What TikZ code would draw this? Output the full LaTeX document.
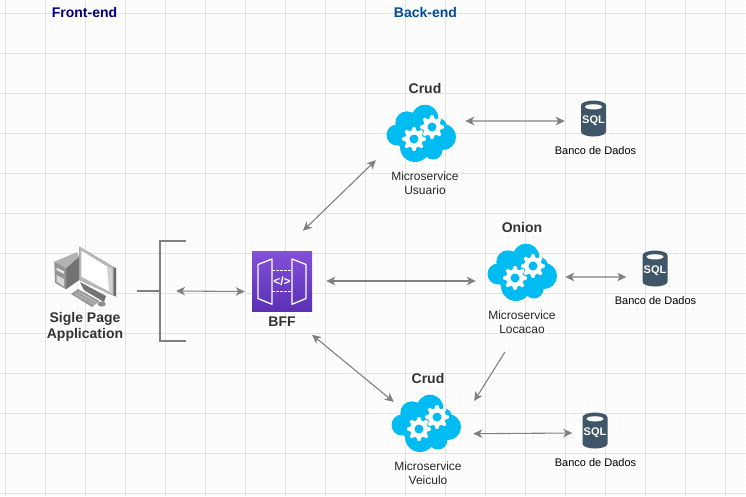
\documentclass[tikz,border=0pt]{standalone}
\usepackage{fontspec}
\setmainfont{Liberation Sans}
\usepackage{tikz}
\usetikzlibrary{arrows.meta, positioning, shapes.geometric}
\definecolor{cloudblue}{HTML}{00BCF2}
\definecolor{sqlslate}{HTML}{3F5568}
\definecolor{linegray}{HTML}{808080}
\definecolor{frontblue}{HTML}{000080}
\definecolor{backblue}{HTML}{004C99}
\definecolor{bfftop}{HTML}{8350D8}
\definecolor{bffbottom}{HTML}{5A30B5}
\newcommand{\gearmark}[2]{%
    \fill[white] plot[samples at={0,...,31}] ({#1+(12-3.2*(mod(\x,4)>=2))*cos(11.25*\x-5.6)},{#2+(12-3.2*(mod(\x,4)>=2))*sin(11.25*\x-5.6)}) -- cycle;
    \fill[cloudblue] (#1,#2) circle [radius=4.5];
}
\tikzset{
    gridminor/.style={color=black!3, line width=.7pt},
    gridmajor/.style={color=black!11, line width=1pt},
    link/.style={{Stealth[length=9pt,width=8.5pt,inset=2.5pt]}-{Stealth[length=9pt,width=8.5pt,inset=2.5pt]}, color=linegray, line width=1.1pt},
    linkone/.style={-{Stealth[length=9pt,width=8.5pt,inset=2.5pt]}, color=linegray, line width=1.1pt},
    bracketline/.style={color=linegray, line width=1.6pt},
    iconbox/.style={minimum width=#1, minimum height=58pt, inner sep=0pt},
    title/.style={font=\bfseries\fontsize{14}{16}\selectfont, text=black!80},
    service/.style={font=\fontsize{12}{14}\selectfont, align=center, text=black!85},
    dbname/.style={font=\fontsize{11}{13}\selectfont, text=black},
    sqlbox/.style={cylinder, shape border rotate=90, aspect=.42, fill=sqlslate, text=white,
        minimum width=25pt, minimum height=36pt, inner sep=0pt, font=\bfseries\fontsize{11}{12}\selectfont},
    gateline/.style={white, line width=1.3pt, line join=round},
    gatedash/.style={white, line width=1.3pt, dash pattern=on 2.5pt off 1.5pt},
    pics/cloudicon/.style={code={
        \fill[cloudblue] (-14,-10) circle [radius=11.7];
        \fill[cloudblue] (4,-15) circle [radius=13.3];
        \fill[cloudblue] (17,-6) circle [radius=9];
        \fill[cloudblue] (22,4) circle [radius=13];
        \fill[cloudblue] (-24,2) circle [radius=10.5];
        \fill[cloudblue] (-6,14) circle [radius=15];
        \fill[cloudblue] (12,17) circle [radius=9.5];
        \fill[cloudblue] (-5,2) circle [radius=20];
        \fill[cloudblue] (10,0) circle [radius=14];
        \gearmark{-7}{6}
        \gearmark{11}{-6}
    }},
    pics/pcicon/.style={code={
        \fill[black!30] (-30.7,-14.3) -- (-8.3,-23.7) -- (-5.7,-19.3) -- (-19,-7.7) -- cycle;%torre
        \fill[black!55] (-19,-7.7) -- (-5.7,-19.3) -- (-5.7,4) -- (-19,13.3) -- cycle;
        \fill[black!42] (-30.7,-14.3) -- (-19,-7.7) -- (-19,13.3) -- (-30,6.7) -- cycle;
        \fill[black!8] (-28.5,-8.5) -- (-21,-4.5) -- (-21,-2) -- (-28.5,-6) -- cycle;
        \fill[black!15] (-28.5,-1) -- (-21,3) -- (-21,10.5) -- (-28.5,5.5) -- cycle;
        \fill[black!60] (-5.7,-29.3) -- (31,-7.7) -- (31,20.7) -- (-5.7,4) -- cycle;%monitor
        \fill[black!28] (-5.7,-29.3) -- (28.5,-9.2) -- (28.5,19.5) -- (-5.7,4) -- cycle;
        \fill[white] (-3.7,-25.3) -- (27,-6.5) -- (27,17) -- (-3.7,.7) -- cycle;
        \fill[black!18] (22,-9.5) -- (27,-6.5) -- (27,17) -- (24,15.5) -- cycle;
        \fill[black!55] (-5,6) -- (21,20) -- (19,26) -- (-1,14) -- cycle;%base
        \fill[black!40] (-14,18) -- (-7,13) -- (14.5,25) -- (7,31) -- cycle;%teclado
        \draw[black!15, densely dotted, line width=1pt] (-9,18) -- (10,28.5);
        \draw[black!15, densely dotted, line width=1pt] (-6,16.5) -- (11,26);
        \fill[black!45] (16.7,28) ellipse [x radius=4, y radius=2.6];%mouse
    }},
}
\begin{document}
\begin{tikzpicture}[x=1pt,y=-1pt]
    \useasboundingbox (0,0) rectangle (746,496);
    \fill[white] (0,0) rectangle (746,496);
    \begin{scope}
    \clip (0,0) rectangle (746,496);
    \foreach \i in {0,...,93} \draw[gridminor] (5+8*\i,0)--(5+8*\i,496);
    \foreach \i in {0,...,62} \draw[gridminor] (0,5+8*\i)--(746,5+8*\i);
    \foreach \i in {0,...,18} \draw[gridmajor] (5+40*\i,0)--(5+40*\i,496);
    \foreach \i in {0,...,12} \draw[gridmajor] (0,13+40*\i)--(746,13+40*\i);
    \end{scope}

    \node[title, text=frontblue] (frontTitle) at (84.5,12) {Front-end};
    \node[title, text=backblue] (backTitle) at (425.5,12) {Back-end};

    %front
    \node[iconbox=62pt] (front) at (85,276) {};
    \pic at (front) {pcicon};
    \node[title, align=center] (frontName) at (85,327) {Sigle Page\\Application};
    \coordinate (bracket) at (160,291);
    \draw[bracketline] ([shift={(26,-50)}]bracket) -- ++(-26,0) -- ++(0,100) -- ++(26,0);
    \draw[bracketline] ([shift={(21,15)}]front.east) -- (bracket);

    %BFF
    \node[minimum size=60pt, inner sep=0pt, top color=bfftop, bottom color=bffbottom] (bff) at (282,281.5) {};
    \draw[gateline] ([shift={(-24,-17)}]bff.center) -- ([shift={(-10,-22.5)}]bff.center) -- ([shift={(-10,22.8)}]bff.center) -- ([shift={(-24,17)}]bff.center) -- cycle;
    \draw[gateline] ([shift={(24,-17)}]bff.center) -- ([shift={(10,-22.5)}]bff.center) -- ([shift={(10,22.8)}]bff.center) -- ([shift={(24,17)}]bff.center) -- cycle;
    \draw[gatedash] ([shift={(-10,-11)}]bff.center) -- ([shift={(10,-11)}]bff.center);
    \draw[gatedash] ([shift={(-10,10)}]bff.center) -- ([shift={(10,10)}]bff.center);
    \node[text=white, font=\bfseries\fontsize{12}{12}\selectfont, inner sep=0pt] (bffCode) at (bff.center) {</>};
    \node[title] (bffName) [below=2pt of bff] {BFF};

    %microservices
    \node[iconbox=74pt] (usuario) at (421,133) {};
    \pic at (usuario) {cloudicon};
    \node[title] (usuarioTitle) at (425,88) {Crud};
    \node[service] (usuarioName) at (425,183) {Microservice\\Usuario};

    \node[iconbox=74pt] (locacao) at (522,272) {};
    \pic at (locacao) {cloudicon};
    \node[title] (locacaoTitle) at (522,227) {Onion};
    \node[service] (locacaoName) at (522,322) {Microservice\\Locacao};

    \node[iconbox=74pt] (veiculo) at (426,423) {};
    \pic at (veiculo) {cloudicon};
    \node[title] (veiculoTitle) at (428,378) {Crud};
    \node[service] (veiculoName) at (428,473) {Microservice\\Veiculo};

    %bancos
    \node[sqlbox] (sqlA) at (593.5,121) {SQL};
    \node[dbname] (sqlAName) at (595.5,151) {Banco de Dados};
    \node[sqlbox] (sqlB) at (655,271) {SQL};
    \node[dbname] (sqlBName) at (655.5,301) {Banco de Dados};
    \node[sqlbox] (sqlC) at (595,433) {SQL};
    \node[dbname] (sqlCName) at (595.5,463) {Banco de Dados};
    \foreach \n in {sqlA,sqlB,sqlC} \fill[white] ([shift={(0,6.5)}]\n.north) ellipse [x radius=8.5, y radius=2.6];

    %ligacoes
    \draw[link] ([xshift=16pt]bracket) -- ([shift={(-7,10)}]bff.west);
    \draw[link] ([shift={(21,-20.5)}]bff.north) -- ([shift={(-8,-2)}]usuario.south -| usuario.west);
    \draw[link] ([shift={(14,-.5)}]bff.east) -- ([shift={(-9,9)}]locacao.west);
    \draw[link] ([shift={(30,23)}]bff.south) -- ([shift={(5,-21)}]veiculo.west);
    \draw[linkone] ([shift={(-17,15)}]locacaoName.south) -- ([shift={(11,-22)}]veiculo.east);
    \draw[link] ([shift={(7,-12)}]usuario.east) -- ([shift={(-16,0)}]sqlA.west);
    \draw[link] ([shift={(6,5)}]locacao.east) -- ([shift={(-16,6)}]sqlB.west);
    \draw[link] ([shift={(10,10.7)}]veiculo.east) -- ([shift={(-10,0)}]sqlC.west);
\end{tikzpicture}
\end{document}
